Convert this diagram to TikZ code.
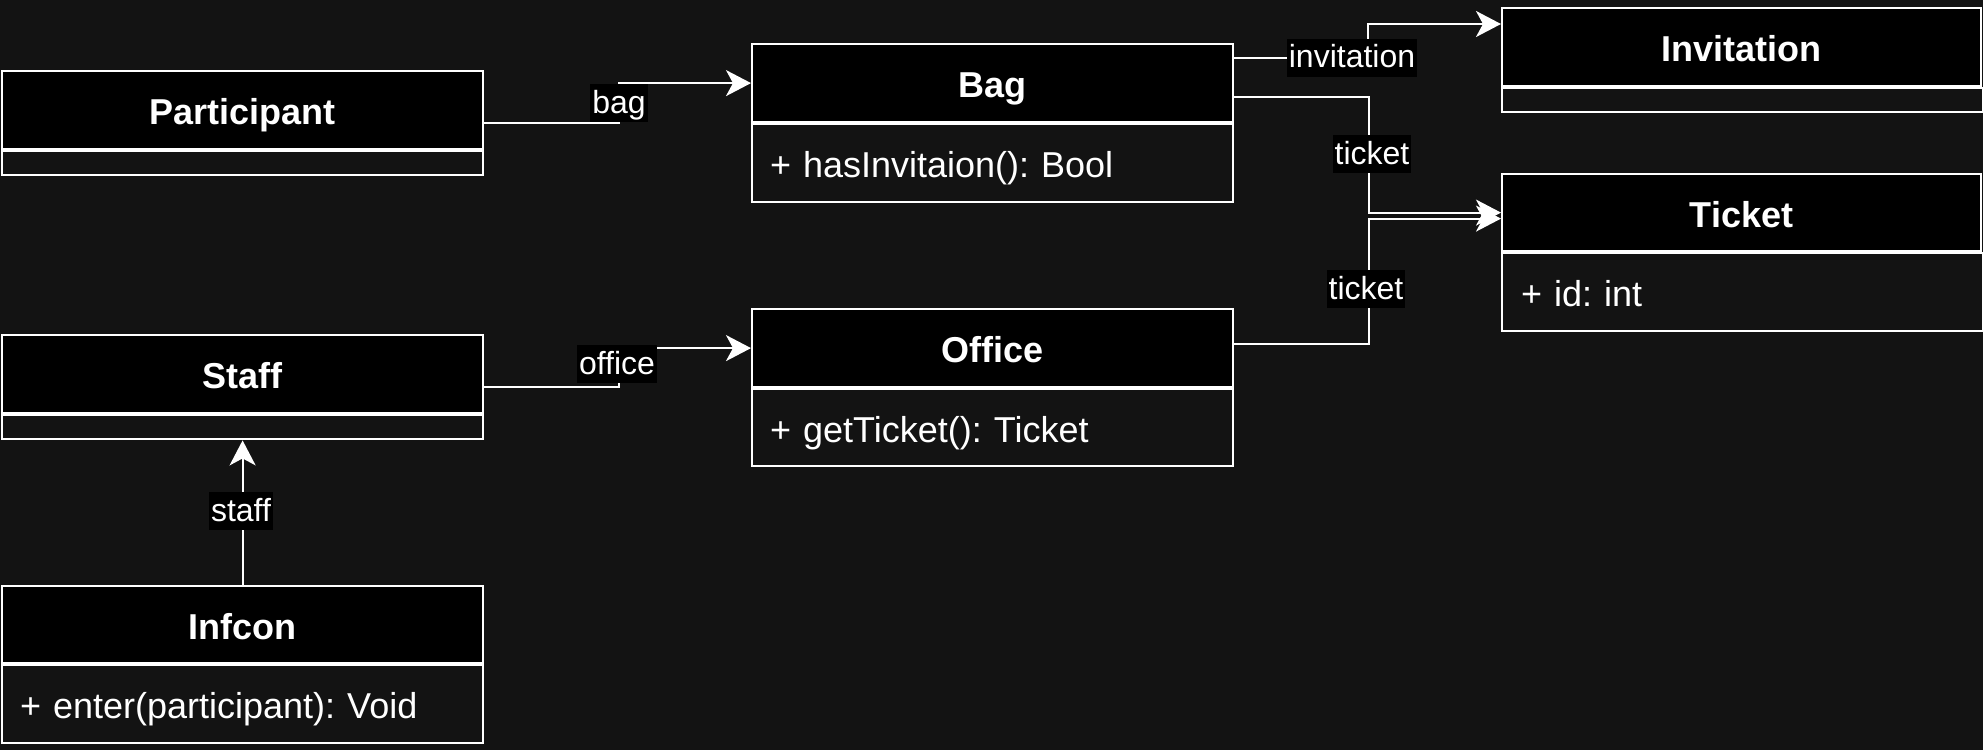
\documentclass[tikz,border=0pt]{standalone}
\usepackage{fontspec}
\setmainfont{Liberation Sans}
\usetikzlibrary{arrows.meta,calc}
\definecolor{bgc}{HTML}{131313}
\frenchspacing
\begin{document}
\begin{tikzpicture}[x=1bp,y=-1bp,
  hdr/.style={draw=white,line width=2.2bp,fill=black,text=white,
    font=\fontsize{36bp}{43bp}\selectfont\bfseries,minimum width=481bp,
    minimum height=78bp,inner sep=0pt,text height=31bp,text depth=2bp,
    anchor=north west},
  bodyst/.style={draw=white,line width=2.2bp,text=white,
    font=\fontsize{36bp}{43bp}\selectfont,minimum width=481bp,text width=445bp,
    inner xsep=18bp,inner ysep=0pt,align=left,anchor=north west,
    text height=31bp,text depth=2bp},
  emptybody/.style={bodyst,text height=0pt,text depth=0pt},
  conn/.style={draw=white,line width=2.2bp,
    -{Stealth[length=25bp,width=26bp,inset=7bp]}},
  lbl/.style={fill=black,text=white,font=\fontsize{32bp}{38bp}\selectfont,
    inner xsep=2bp,inner ysep=1bp,text height=28bp,text depth=8bp}
]
\fill[bgc] (0,0) rectangle (1983,750);
\useasboundingbox (0,0) rectangle (1983,750);

% Participant
\node[hdr] (partH) at (1,70) {Participant};
\node[emptybody,minimum height=24bp] (partB) at (partH.south west) {};
% Bag
\node[hdr] (bagH) at (751,43) {Bag};
\node[bodyst,minimum height=78bp] (bagB) at (bagH.south west) {+ hasInvitaion(): Bool};
% Invitation
\node[hdr,minimum width=479bp] (invH) at (1501,7) {Invitation};
\node[emptybody,minimum height=24bp,text width=443bp] (invB) at (invH.south west) {};
% Ticket
\node[hdr,minimum width=479bp,minimum height=77bp] (ticketH) at (1501,173) {Ticket};
\node[bodyst,minimum height=78bp,text width=443bp] (ticketB) at (ticketH.south west) {+ id: int};
% Staff
\node[hdr] (staffH) at (1,334) {Staff};
\node[emptybody,minimum height=24bp] (staffB) at (staffH.south west) {};
% Office
\node[hdr] (officeH) at (751,308) {Office};
\node[bodyst,minimum height=77bp] (officeB) at (officeH.south west) {+ getTicket(): Ticket};
% Infcon
\node[hdr,minimum height=77bp] (infH) at (1,585) {Infcon};
\node[bodyst,minimum height=78bp] (infB) at (infH.south west) {+ enter(participant): Void};

% connectors
\draw[conn] ($(partH.north east)!.5!(partB.south east)$) -- ++(135,0) |- (bagH.west);
\draw[conn] ($(staffH.north east)!.5!(staffB.south east)$) -- ++(135,0) |- (officeH.west);
\draw[conn] ($(bagH.north east)+(0,15)$) -- ++(134,0) |- ($(invH.north west)+(0,17)$);
\draw[conn] ($(bagH.north east)+(0,54)$) -- ++(135,0) |- (ticketH.west);
\draw[conn] ($(officeH.east)+(0,-4)$) -- ++(135,0) |- ($(ticketH.west)+(0,6)$);
\draw[conn] (infH.north) -- (staffB.south);

% labels
\node[lbl] (lbag) at (619,103) {bag};
\node[lbl] (loffice) at (617,364) {office};
\node[lbl] (linv) at (1352,58) {invitation};
\node[lbl] (lticket1) at (1372,154) {ticket};
\node[lbl] (lticket2) at (1366,289) {ticket};
\node[lbl] (lstaff) at (241,511) {staff};
\end{tikzpicture}
\end{document}
